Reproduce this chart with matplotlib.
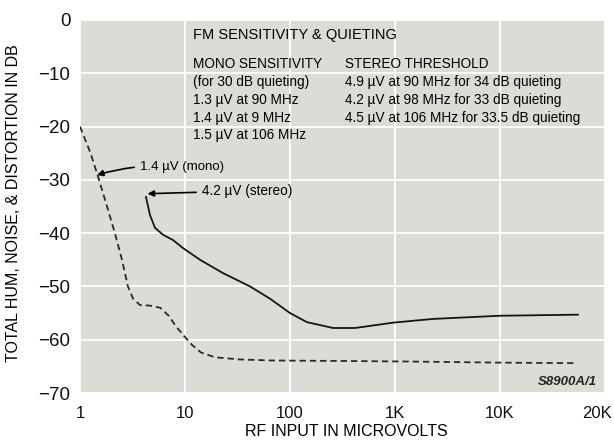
import matplotlib
matplotlib.use('Agg')
import matplotlib.pyplot as plt
from matplotlib import font_manager
from matplotlib.ticker import NullLocator
from matplotlib.transforms import ScaledTranslation

# prefer a narrow face, the original lettering is condensed
installed = {f.name for f in font_manager.fontManager.ttflist}
if 'Liberation Sans Narrow' in installed:
    face, k = 'Liberation Sans Narrow', 1.2
else:
    face, k = 'Liberation Sans', 1.0
plt.rcParams['font.family'] = [face, 'DejaVu Sans']

# mono curve (dashed), RF input in microvolts vs dB
mono_uv = [1, 1.25, 1.48, 1.81, 2.15, 2.51, 2.86, 3.2, 3.73, 4.64, 5.8, 7.0,
           8.2, 9.8, 11.7, 14.2, 19.3, 33, 67, 370, 1500, 10000, 52000]
mono_db = [-20, -24.8, -29.3, -35, -40, -45, -50, -52.3, -53.5, -53.6, -54,
           -55.5, -57.5, -59.3, -61, -62.4, -63.3, -63.7, -63.9, -64, -64.1,
           -64.3, -64.4]

# stereo curve (solid)
stereo_uv = [4.25, 4.64, 5.18, 6.17, 7.69, 9.57, 13.9, 23, 41.6, 64.5, 100,
             145, 257, 416, 957, 2300, 10000, 55300]
stereo_db = [-33.2, -36.6, -39, -40.3, -41.3, -42.8, -45, -47.5, -50, -52.3,
             -55, -56.7, -57.8, -57.8, -56.8, -56.1, -55.5, -55.3]

x_ticks = [1, 10, 100, 1e3, 1e4, 1e5]
x_labels = ['1', '10', '100', '1K', '10K', '20K']
y_ticks = [0, -10, -20, -30, -40, -50, -60, -70]

mono_lines = ['MONO SENSITIVITY', '(for 30 dB quieting)', '1.3 \u00b5V at 90 MHz',
              '1.4 \u00b5V at 9 MHz', '1.5 \u00b5V at 106 MHz']
stereo_lines = ['STEREO THRESHOLD', '4.9 \u00b5V at 90 MHz for 34 dB quieting',
                '4.2 \u00b5V at 98 MHz for 33 dB quieting',
                '4.5 \u00b5V at 106 MHz for 33.5 dB quieting']

fig = plt.figure(figsize=(6.14, 4.43), dpi=100)
ax = fig.add_axes([80 / 614, 1 - 393 / 443, 525 / 614, 373 / 443])
ax.set_facecolor('#dcdcd6')
ax.set_xscale('log')
ax.set_xlim(1, 1e5)
ax.set_ylim(-70, 0)

ax.plot(mono_uv, mono_db, color='#2a2a2a', lw=1.3, dashes=(3.5, 2.2))
ax.plot(stereo_uv, stereo_db, color='#151515', lw=1.3)

ax.set_xticks(x_ticks)
ax.set_xticklabels(x_labels)
ax.xaxis.set_minor_locator(NullLocator())
ax.set_yticks(y_ticks)
ax.tick_params(length=0, colors='#111111')
ax.tick_params(axis='x', pad=9, labelsize=12 * k)
ax.tick_params(axis='y', pad=7, labelsize=13.5 * k)
last = ax.get_xticklabels()[-1]
last.set_horizontalalignment('right')
last.set_transform(last.get_transform() + ScaledTranslation(0.07, 0, fig.dpi_scale_trans))
for s in ax.spines.values():
    s.set_visible(False)
ax.grid(True, color='white', lw=1.3)
ax.set_axisbelow(True)

ax.set_ylabel('TOTAL HUM, NOISE, & DISTORTION IN DB', fontsize=11.5 * k)
ax.yaxis.set_label_coords(-0.113, 0.51)
ax.set_xlabel('RF INPUT IN MICROVOLTS', fontsize=11.5 * k)
ax.xaxis.set_label_coords(0.507, -0.083)

# text block
ax.text(0.215, 0.961, 'FM SENSITIVITY & QUIETING', transform=ax.transAxes,
        fontsize=10.5 * k, va='center', ha='left', color='black')
for i, s in enumerate(mono_lines):
    ax.text(0.215, 0.881 - i * 0.0475, s, transform=ax.transAxes,
            fontsize=9.8 * k, va='center', ha='left', color='black')
for i, s in enumerate(stereo_lines):
    ax.text(0.505, 0.881 - i * 0.0475, s, transform=ax.transAxes,
            fontsize=9.8 * k, va='center', ha='left', color='black')

# callouts
ax.annotate('1.4 \u00b5V (mono)', xy=(1.45, -29.1), xytext=(0.114, 0.606),
            textcoords='axes fraction', fontsize=9.5 * k, va='center', ha='left',
            arrowprops=dict(arrowstyle='-|>', color='black', lw=1.2,
                            mutation_scale=9, shrinkA=2, shrinkB=0,
                            connectionstyle='arc3,rad=0.1'))
ax.annotate('4.2 \u00b5V (stereo)', xy=(4.4, -32.6), xytext=(0.232, 0.542),
            textcoords='axes fraction', fontsize=9.8 * k, va='center', ha='left',
            arrowprops=dict(arrowstyle='-|>', color='black', lw=1.2,
                            mutation_scale=9, shrinkA=2, shrinkB=0))

ax.text(0.985, 0.03, 'S8900A/1', transform=ax.transAxes, fontsize=9.5 * k,
        style='italic', weight='bold', ha='right', va='center', color='#222222')

fig.savefig('out.png', dpi=100)
